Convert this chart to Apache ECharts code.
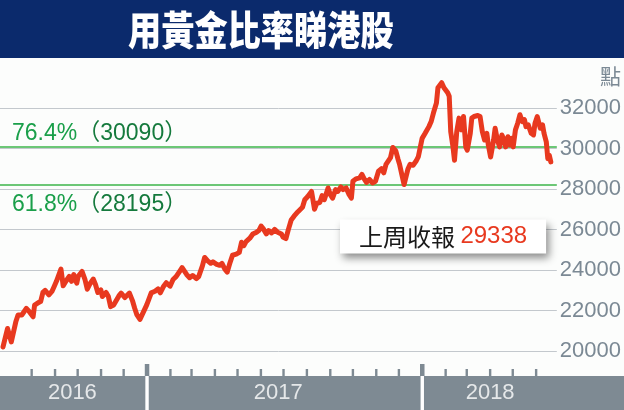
<!DOCTYPE html>
<html><head><meta charset="utf-8">
<script src="https://cdn.jsdelivr.net/npm/echarts@6/dist/echarts.min.js"></script>
<style>html,body{margin:0;padding:0;background:#fcfdfc}#c{width:624px;height:410px}</style>
</head><body><div id="c"></div>
<script>
const titleText = '用黃金比率睇港股';
const unitText = '點';
const lastLabel = '上周收報';
const dates = [
'2016-06-24','2016-06-30','2016-07-05','2016-07-11','2016-07-14','2016-07-19','2016-07-22','2016-07-25','2016-07-29','2016-08-03',
'2016-08-05','2016-08-10','2016-08-13','2016-08-16','2016-08-19','2016-08-24','2016-08-28','2016-08-31','2016-09-03','2016-09-09',
'2016-09-12','2016-09-16','2016-09-20','2016-09-23','2016-09-26','2016-09-30','2016-10-02','2016-10-07','2016-10-11','2016-10-14',
'2016-10-18','2016-10-22','2016-10-25','2016-10-28','2016-11-01','2016-11-03','2016-11-08','2016-11-11','2016-11-14','2016-11-18',
'2016-11-25','2016-11-28','2016-12-03','2016-12-05','2016-12-09','2016-12-13','2016-12-16','2016-12-19','2016-12-23','2016-12-25',
'2017-01-01','2017-01-07','2017-01-12','2017-01-16','2017-01-19','2017-01-23','2017-01-27','2017-02-01','2017-02-05','2017-02-09',
'2017-02-14','2017-02-17','2017-02-23','2017-02-27','2017-03-03','2017-03-08','2017-03-11','2017-03-16','2017-03-19','2017-03-23',
'2017-03-27','2017-03-30','2017-04-04','2017-04-08','2017-04-11','2017-04-15','2017-04-18','2017-04-21','2017-04-25','2017-04-30',
'2017-05-04','2017-05-07','2017-05-10','2017-05-13','2017-05-18','2017-05-22','2017-05-27','2017-05-30','2017-06-02','2017-06-05',
'2017-06-09','2017-06-12','2017-06-16','2017-06-20','2017-06-24','2017-06-29','2017-07-01','2017-07-05','2017-07-08','2017-07-12',
'2017-07-16','2017-07-21','2017-07-27','2017-07-30','2017-08-03','2017-08-08','2017-08-12','2017-08-15','2017-08-19','2017-08-22',
'2017-08-25','2017-08-30','2017-09-02','2017-09-05','2017-09-09','2017-09-12','2017-09-16','2017-09-19','2017-09-23','2017-09-27',
'2017-09-30','2017-10-02','2017-10-06','2017-10-11','2017-10-14','2017-10-17','2017-10-20','2017-10-24','2017-10-28','2017-11-01',
'2017-11-05','2017-11-09','2017-11-12','2017-11-15','2017-11-21','2017-11-24','2017-11-28','2017-12-01','2017-12-03','2017-12-06',
'2017-12-09','2017-12-14','2017-12-17','2017-12-21','2017-12-25','2017-12-28','2018-01-02','2018-01-06','2018-01-11','2018-01-14',
'2018-01-17','2018-01-21','2018-01-23','2018-01-25','2018-01-28','2018-01-31','2018-02-05','2018-02-07','2018-02-09','2018-02-12',
'2018-02-14','2018-02-17','2018-02-20','2018-02-23','2018-02-26','2018-03-01','2018-03-03','2018-03-07','2018-03-09','2018-03-12',
'2018-03-17','2018-03-20','2018-03-23','2018-03-26','2018-03-29','2018-03-31','2018-04-03','2018-04-07','2018-04-09','2018-04-12',
'2018-04-15','2018-04-18','2018-04-21','2018-04-23','2018-04-26','2018-04-29','2018-05-01','2018-05-03','2018-05-06','2018-05-09',
'2018-05-12','2018-05-15','2018-05-18','2018-05-20','2018-05-23','2018-05-27','2018-05-30','2018-06-01','2018-06-04','2018-06-08',
'2018-06-11','2018-06-13','2018-06-16','2018-06-18','2018-06-20','2018-06-22'
];
const closes = [
20200,21110,20450,21440,21780,21780,21940,22110,21940,21690,
22270,22390,22440,22890,22990,22770,22940,23190,23440,24050,
23220,23470,23690,23440,23770,23350,23690,23930,23520,23050,
23350,23550,23270,22890,23020,22690,22890,22690,22190,22270,
22720,22860,22640,22690,22860,22490,22110,21780,21560,21560,
22280,22870,22950,23070,22870,23170,23370,23200,23530,23670,
23950,24120,23780,23620,23730,23570,23670,24200,24620,24450,
24330,24400,24280,24230,24330,24030,23900,24280,24730,24780,
24870,25370,25200,25400,25570,25780,25870,25950,26170,26030,
25780,25950,25830,26000,25870,25780,25630,25550,25970,26470,
26670,26880,27100,27470,27630,27880,27000,27300,27330,27670,
27470,28050,27720,27550,27970,27880,28100,27970,28050,27720,
27550,28380,28500,28550,28720,28500,28330,28470,28300,28380,
28880,29000,28800,29220,29550,30050,29880,29470,29220,28720,
28220,28970,29220,29170,29380,29600,30500,30750,31080,31330,
31750,32250,33000,32920,33250,33000,32750,32580,30830,30080,
29420,30830,31500,30920,31580,30080,29920,30750,31500,31580,
31630,31580,30830,30420,30750,30170,29580,30420,31000,30420,
30080,30670,30420,30080,30580,30170,30500,30080,30920,31250,
31670,31330,31420,31080,31170,30750,30670,31250,31580,31000,
31170,30750,30330,29500,29670,29338
];
const fibLevels = [30090, 28195];
const fibPercents = ['76.4%', '61.8%'];
const yMin = 20000, yMax = 32000, yInterval = 2000;
const xMin = '2016-06-20', xMax = '2018-06-30';
const yearLabels = ['2016', '2017', '2018'];
const yearLabelDates = ['2016-09-24', '2017-06-24', '2018-04-01'];
const yearStarts = ['2017-01-01', '2018-01-01'];
const monthTicks = ['2016-08-01','2016-09-01','2016-10-01','2016-11-01','2016-12-01',
  '2017-02-01','2017-03-01','2017-04-01','2017-05-01','2017-06-01','2017-07-01','2017-08-01','2017-09-01','2017-10-01','2017-11-01','2017-12-01',
  '2018-02-01','2018-03-01','2018-04-01','2018-05-01','2018-06-01'];

const ts = s => { const p = s.split('-').map(Number); return new Date(p[0], p[1] - 1, p[2]).getTime(); };
const FONT = '"Liberation Sans", Arial, "Noto Sans CJK TC", sans-serif';
const CJK = '"Noto Sans CJK TC", sans-serif';
const RED = '#e8391f';
const BAND = '#7e8a93';
const lineData = dates.map((d, i) => [ts(d), closes[i]]);

// bottom strip: one grid whose hidden y axis runs 0 (top) .. 46 (bottom)
const STRIP_H = 46;
// mark kinds: 0 = month tick, 1 = year stub above band, 2 = white year divider in band
const markStyles = [
  { color: BAND, w: 2.4, top: 5, h: 7 },
  { color: BAND, w: 4.5, top: 0, h: 12 },
  { color: '#ffffff', w: 3.4, top: 12, h: 34 }
];
const stripMarks = [].concat(
  monthTicks.map(d => [ts(d), 0]),
  yearStarts.map(d => [ts(d), 1]),
  yearStarts.map(d => [ts(d), 2])
);

const chart = echarts.init(document.getElementById('c'));
chart.setOption({
  backgroundColor: '#fcfdfc',
  animation: false,
  graphic: [
    { type: 'rect', shape: { x: 0, y: 0, width: 624, height: 58 }, style: { fill: '#0b2a6c' } },
    { type: 'rect', shape: { x: 0, y: 376, width: 624, height: 34 }, style: { fill: BAND } },
    { type: 'text', x: 128, y: 30, scaleX: 0.83, style: { text: titleText, fill: '#ffffff', fontSize: 40, fontWeight: 900, fontFamily: CJK, verticalAlign: 'middle' } }
  ],
  title: [
    { text: unitText, right: 3, top: 66, padding: 0, textStyle: { fontSize: 21, fontWeight: 'normal', color: '#7b8994', fontFamily: CJK } },
    { text: '{a|' + lastLabel + ' }{b|' + closes[closes.length - 1] + '}', left: 340, top: 218,
      padding: [5, 19, 5, 19], backgroundColor: '#ffffff',
      shadowColor: 'rgba(0,0,0,0.45)', shadowBlur: 8, shadowOffsetX: 3, shadowOffsetY: 5,
      textStyle: { fontWeight: 'normal', rich: {
        a: { fontSize: 24, fontWeight: 'normal', color: '#1a1a1a', fontFamily: CJK, lineHeight: 27 },
        b: { fontSize: 24, fontWeight: 'normal', color: RED, fontFamily: FONT, lineHeight: 27 } } } }
  ],
  grid: [
    { left: 0, right: 66, top: 108, height: 243 },
    { left: 0, right: 66, top: 364, height: STRIP_H }
  ],
  xAxis: [
    { type: 'time', gridIndex: 0, min: ts(xMin), max: ts(xMax), show: false },
    { type: 'time', gridIndex: 1, min: ts(xMin), max: ts(xMax), show: false }
  ],
  yAxis: [
    { type: 'value', gridIndex: 0, position: 'right', min: yMin, max: yMax, interval: yInterval,
      axisLine: { show: false }, axisTick: { show: false },
      splitLine: { lineStyle: { color: '#c3c8cd', width: 1 } },
      axisLabel: { margin: 3, fontSize: 22, color: '#7b8994', fontFamily: FONT, formatter: v => String(v) } },
    { type: 'value', gridIndex: 1, min: 0, max: STRIP_H, inverse: true, show: false }
  ],
  series: [
    { type: 'line', xAxisIndex: 0, yAxisIndex: 0, data: [], z: 1, silent: true,
      markLine: { silent: true, animation: false, symbol: ['none', 'none'],
        lineStyle: { color: '#3db54a', width: 1.5, type: 'solid' },
        emphasis: { disabled: true },
        data: fibLevels.map((v, i) => ({ yAxis: v,
          label: { show: true, position: i === 0 ? 'insideStartTop' : 'insideStartBottom',
            distance: i === 0 ? [12, 2] : [12, 8],
            formatter: '{p|' + fibPercents[i] + '}{v|（' + v + '）}',
            rich: { p: { color: '#1a9f4a', fontSize: 23, fontFamily: FONT },
                    v: { color: '#157a3d', fontSize: 23, fontFamily: FONT } } } })) } },
    { type: 'line', xAxisIndex: 0, yAxisIndex: 0, data: lineData, showSymbol: false, symbol: 'none',
      clip: false, z: 5, lineStyle: { color: RED, width: 5, join: 'round', cap: 'round' } },
    { type: 'custom', xAxisIndex: 1, yAxisIndex: 1, silent: true, z: 4, clip: false,
      data: stripMarks,
      renderItem: (params, api) => {
        const s = markStyles[api.value(1)];
        const a = api.coord([api.value(0), s.top]);
        const b = api.coord([api.value(0), s.top + s.h]);
        return { type: 'rect', shape: { x: a[0] - s.w / 2, y: a[1], width: s.w, height: b[1] - a[1] },
                 style: { fill: s.color } };
      } },
    { type: 'scatter', xAxisIndex: 1, yAxisIndex: 1, symbolSize: 1, itemStyle: { color: 'rgba(0,0,0,0)' },
      data: yearLabelDates.map(d => [ts(d), 29]), silent: true, z: 5,
      label: { show: true, position: 'inside', color: '#ffffff', fontSize: 22, fontFamily: FONT,
        formatter: p => yearLabels[p.dataIndex] } }
  ]
});
</script>
</body></html>
